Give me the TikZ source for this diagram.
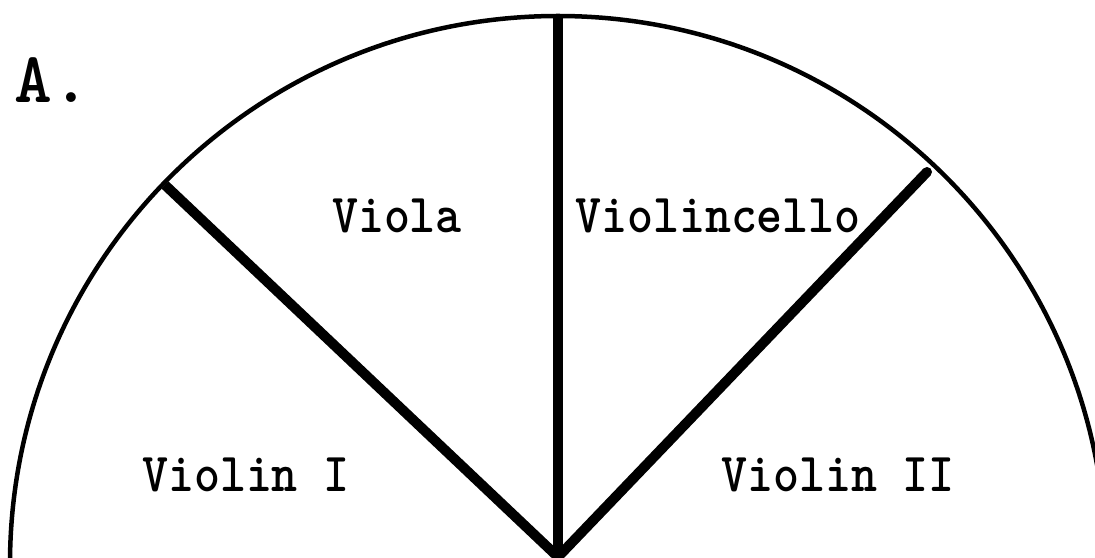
\documentclass[tikz,border=0pt]{standalone}
\begin{document}
\begin{tikzpicture}[x=1pt,y=1pt,
  arcline/.style={line width=4.5pt},
  divider/.style={line width=10pt},
  lbl/.style={anchor=base,inner sep=0pt,font=\fontsize{55}{60}\selectfont\ttfamily\bfseries},
  title/.style={anchor=base west,inner sep=0pt,font=\fontsize{72}{76}\selectfont\ttfamily\bfseries}]
\useasboundingbox (0,0) rectangle (1095,557);
\begin{scope}
\clip (0,0) rectangle (1095,557);
\coordinate (O) at (558,-7);
\draw[arcline] (O) ++(180:548) arc[start angle=180,end angle=0,radius=548];
\coordinate (C) at (558,0);
\coordinate (T) at (558,543);
\coordinate (L) at (165,372);
\coordinate (R) at (927,385);
\draw[divider] (C) -- (T);
\draw[divider] (C) -- (L);
\draw[divider,line cap=round] (C) -- (R);
\end{scope}
\node[title] (a) at (14,454) {A.};
\node[lbl] (viola) at (397,324) {\scalebox{0.9}[1]{Viola}};
\node[lbl] (vc) at (718,324) {\scalebox{0.9}[1]{Violincello}};
\node[lbl] (v1) at (246,65) {\scalebox{0.9}[1]{Violin I}};
\node[lbl] (v2) at (838,65) {\scalebox{0.9}[1]{Violin II}};
\end{tikzpicture}
\end{document}
